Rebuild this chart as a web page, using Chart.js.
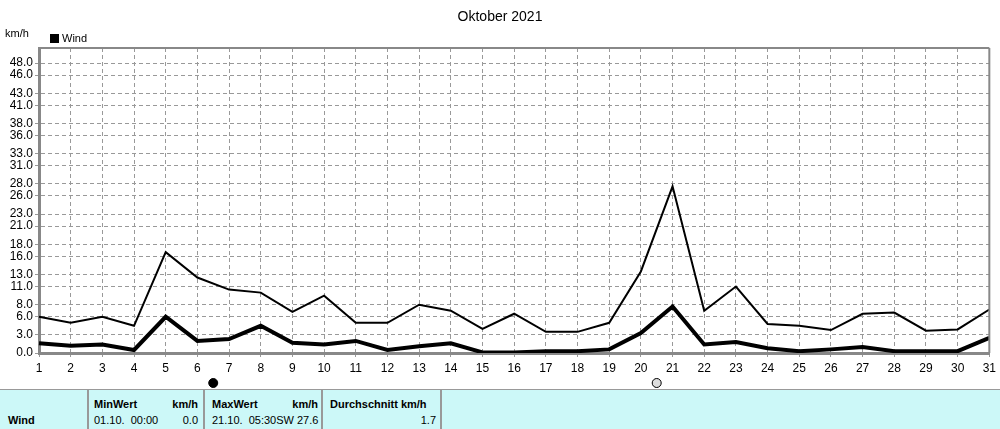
<!DOCTYPE html>
<html><head><meta charset="utf-8">
<script src="https://cdn.jsdelivr.net/npm/chart.js@4"></script>
<style>
body{margin:0;background:#fff;font-family:"Liberation Sans",Arial,sans-serif;width:1000px;height:429px;overflow:hidden;position:relative}
#c{position:absolute;left:0;top:0}
.t{position:absolute;font-size:11px;color:#000}
#tbl{position:absolute;left:0;top:389px;width:1000px;height:40px;background:#ccf8f8;border-top:1px solid #999}
.cell{position:absolute;top:0;height:40px;border-right:2px solid #999;font-size:11px}
</style></head><body>
<canvas id="c" width="1000" height="388"></canvas>
<div class="t" style="left:0;width:1000px;text-align:center;top:8px;font-size:14px">Oktober 2021</div>
<div class="t" style="left:5px;top:27px">km/h</div>
<div class="t" style="left:50px;top:32px"><span style="display:inline-block;width:9px;height:9px;background:#000;margin-right:3px;vertical-align:-1px"></span>Wind</div>
<div id="tbl">
 <div class="cell" style="left:0;width:87px"><b style="position:absolute;left:8px;top:24px">Wind</b></div>
 <div class="cell" style="left:89px;width:114px"><b style="position:absolute;left:5px;top:8px">MinWert</b><b style="position:absolute;right:5px;top:8px">km/h</b><span style="position:absolute;left:5px;top:24px">01.10.&nbsp; 00:00</span><span style="position:absolute;right:5px;top:24px">0.0</span></div>
 <div class="cell" style="left:206px;width:115px"><b style="position:absolute;left:6px;top:8px">MaxWert</b><b style="position:absolute;right:3px;top:8px">km/h</b><span style="position:absolute;left:6px;top:24px">21.10.&nbsp; 05:30SW 27.6</span></div>
 <div class="cell" style="left:324px;width:116px"><b style="position:absolute;left:6px;top:8px">Durchschnitt km/h</b><span style="position:absolute;right:4px;top:24px">1.7</span></div>
</div>
<script>
const days=[];for(let i=1;i<=31;i++)days.push(String(i));
const maxWind=[6.0,5.0,6.0,4.5,16.7,12.5,10.5,10.0,6.8,9.5,5.0,5.0,8.0,7.0,4.0,6.5,3.5,3.5,5.0,13.5,27.6,7.0,11.0,4.8,4.5,3.8,6.5,6.7,3.7,3.9,7.2];
const avgWind=[1.6,1.2,1.4,0.5,6.0,2.0,2.3,4.5,1.7,1.4,2.0,0.5,1.1,1.6,0.1,0.1,0.3,0.3,0.6,3.3,7.7,1.4,1.8,0.8,0.3,0.6,1.0,0.3,0.3,0.3,2.5];
const yTicks=[0,3,6,8,11,13,16,18,21,23,26,28,31,33,36,38,41,43,46,48];
const markers=[{day:6.5,fill:'#000',stroke:'#000'},{day:20.5,fill:'#ddd',stroke:'#000'}];
const markerPlugin={id:'mk',afterDraw(ch){const c=ch.ctx,x=ch.scales.x;markers.forEach(m=>{c.beginPath();c.arc(x.getPixelForValue(m.day-1),383,4.5,0,Math.PI*2);c.fillStyle=m.fill;c.fill();c.strokeStyle=m.stroke;c.lineWidth=1;c.stroke();});
 const a=ch.chartArea;c.strokeStyle='#888';c.lineWidth=2;c.beginPath();c.moveTo(a.right,a.top);c.lineTo(a.right,a.bottom);c.moveTo(a.left,a.top);c.lineTo(a.right,a.top);c.stroke();}};
new Chart(document.getElementById('c'),{type:'line',
data:{labels:days,datasets:[
{data:maxWind,borderColor:'#000',borderWidth:2,pointRadius:0,tension:0},
{data:avgWind,borderColor:'#000',borderWidth:4,pointRadius:0,tension:0}]},
options:{responsive:false,devicePixelRatio:1,animation:false,
layout:{padding:{top:48,right:9,left:0,bottom:0}},
plugins:{legend:{display:false},tooltip:{enabled:false}},
scales:{
x:{offset:false,afterFit(s){s.height=35;},grid:{color:'#999',tickLength:4},border:{display:true,color:'#888',width:3,dash:[4,3]},
 ticks:{color:'#000',font:{family:'Liberation Sans',size:12},maxRotation:0,autoSkip:false,padding:4}},
y:{min:0,max:50.5,afterFit(s){s.width=39;},afterBuildTicks(s){s.ticks=yTicks.map(v=>({value:v}));},
 grid:{color:'#999',tickLength:4},border:{display:true,color:'#888',width:3,dash:[4,3]},
 ticks:{color:'#000',autoSkip:false,font:{family:'Liberation Sans',size:12},padding:2,callback:v=>Number(v).toFixed(1)}}
}},plugins:[markerPlugin]});
</script>
</body></html>
